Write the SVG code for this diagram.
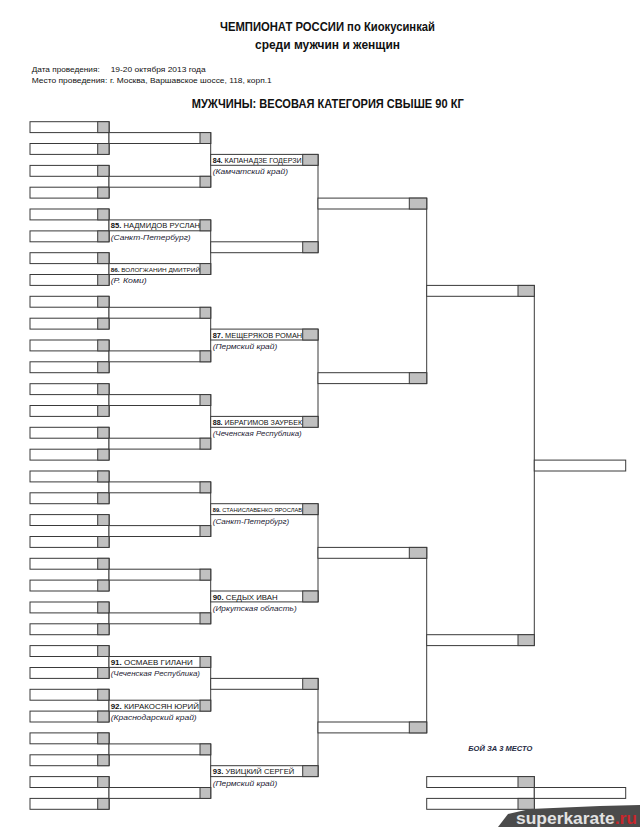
<svg xmlns="http://www.w3.org/2000/svg" width="640" height="827" viewBox="0 0 640 827">
<style>
.w{fill:#fff;stroke:#3a3a3a;stroke-width:1}
.g{fill:#c0c0c0;stroke:#3a3a3a;stroke-width:1}
.c{fill:none;stroke:#3a3a3a;stroke-width:1}
text{font-family:"Liberation Sans",Arial,sans-serif;fill:#111}
.t{font-size:12px;font-weight:bold}
.i{font-size:8px}
.n{font-size:7px}
.nb{font-weight:bold}
.r{font-size:7.5px;font-style:italic;fill:#1c2233}
.bz{font-size:6.5px;font-weight:bold;font-style:italic;fill:#1f2a44}
</style>
<defs>
<g id="b1"><rect class="w" width="79" height="10.9"/><rect class="g" x="67.7" width="11.3" height="10.9"/></g>
<g id="b2"><rect class="w" width="101.7" height="10.9"/><rect class="g" x="91" width="10.7" height="10.9"/></g>
<g id="b3"><rect class="w" width="107.3" height="10.9"/><rect class="g" x="92" width="15.3" height="10.9"/></g>
<g id="b4"><rect class="w" width="108.7" height="10.9"/><rect class="g" x="91.3" width="17.4" height="10.9"/></g>
<g id="b5"><rect class="w" width="107.6" height="10.9"/><rect class="g" x="91.3" width="16.3" height="10.9"/></g>
<g id="bf"><rect class="w" width="91.4" height="10.9"/></g>
</defs>

<g id="header">
<text class="t" x="220" y="31" textLength="215" lengthAdjust="spacingAndGlyphs">ЧЕМПИОНАТ РОССИИ по Киокусинкай</text>
<text class="t" x="255" y="49" textLength="145" lengthAdjust="spacingAndGlyphs">среди мужчин и женщин</text>
<text class="i" x="31.7" y="71.5" textLength="68" lengthAdjust="spacingAndGlyphs">Дата проведения:</text>
<text class="i" x="110.7" y="71.5" textLength="95" lengthAdjust="spacingAndGlyphs">19-20 октября 2013 года</text>
<text class="i" x="31.7" y="82.5" textLength="75.6" lengthAdjust="spacingAndGlyphs">Место проведения:</text>
<text class="i" x="110" y="82.5" textLength="161.7" lengthAdjust="spacingAndGlyphs">г. Москва, Варшавское шоссе, 118, корп.1</text>
<text class="t" x="191.7" y="107.5" textLength="272" lengthAdjust="spacingAndGlyphs">МУЖЧИНЫ: ВЕСОВАЯ КАТЕГОРИЯ СВЫШЕ 90 КГ</text>
</g>

<g id="connectors">
<path class="c" d="M109,121.7V154.4M109,165.4V198.1M109,209V241.8M109,252.7V285.4M109,296.3V329.1M109,340V372.7M109,383.7V416.4M109,427.3V460.1M109,471V503.7M109,514.6V547.4M109,558.3V591M109,602V634.7M109,645.6V678.4M109,689.3V722M109,732.9V765.7M109,776.6V809.3"/>
<path class="c" d="M210.7,132.6V187.2M210.7,219.9V274.5M210.7,307.3V361.8M210.7,394.6V449.2M210.7,481.9V536.5M210.7,569.2V623.8M210.7,656.5V711.1M210.7,743.9V798.4"/>
<path class="c" d="M318,154.4V252.7M318,329.1V427.3M318,503.7V602M318,678.4V776.6"/>
<path class="c" d="M426.7,198.1V383.7M426.7,547.4V732.9"/>
<path class="c" d="M534.3,285.4V645.6M534.3,776.6V809.3"/>
</g>

<g id="round1">
<g id="s01"><use href="#b1" x="30" y="121.7"/></g>
<g id="s02"><use href="#b1" x="30" y="143.5"/></g>
<g id="s03"><use href="#b1" x="30" y="165.4"/></g>
<g id="s04"><use href="#b1" x="30" y="187.2"/></g>
<g id="s05"><use href="#b1" x="30" y="209"/></g>
<g id="s06"><use href="#b1" x="30" y="230.9"/></g>
<g id="s07"><use href="#b1" x="30" y="252.7"/></g>
<g id="s08"><use href="#b1" x="30" y="274.5"/></g>
<g id="s09"><use href="#b1" x="30" y="296.3"/></g>
<g id="s10"><use href="#b1" x="30" y="318.2"/></g>
<g id="s11"><use href="#b1" x="30" y="340"/></g>
<g id="s12"><use href="#b1" x="30" y="361.8"/></g>
<g id="s13"><use href="#b1" x="30" y="383.7"/></g>
<g id="s14"><use href="#b1" x="30" y="405.5"/></g>
<g id="s15"><use href="#b1" x="30" y="427.3"/></g>
<g id="s16"><use href="#b1" x="30" y="449.2"/></g>
<g id="s17"><use href="#b1" x="30" y="471"/></g>
<g id="s18"><use href="#b1" x="30" y="492.8"/></g>
<g id="s19"><use href="#b1" x="30" y="514.6"/></g>
<g id="s20"><use href="#b1" x="30" y="536.5"/></g>
<g id="s21"><use href="#b1" x="30" y="558.3"/></g>
<g id="s22"><use href="#b1" x="30" y="580.1"/></g>
<g id="s23"><use href="#b1" x="30" y="602"/></g>
<g id="s24"><use href="#b1" x="30" y="623.8"/></g>
<g id="s25"><use href="#b1" x="30" y="645.6"/></g>
<g id="s26"><use href="#b1" x="30" y="667.5"/></g>
<g id="s27"><use href="#b1" x="30" y="689.3"/></g>
<g id="s28"><use href="#b1" x="30" y="711.1"/></g>
<g id="s29"><use href="#b1" x="30" y="732.9"/></g>
<g id="s30"><use href="#b1" x="30" y="754.8"/></g>
<g id="s31"><use href="#b1" x="30" y="776.6"/></g>
<g id="s32"><use href="#b1" x="30" y="798.4"/></g>
</g>

<g id="round2">
<g id="r2-01"><use href="#b2" x="109" y="132.6"/></g>
<g id="r2-02"><use href="#b2" x="109" y="176.3"/></g>
<g id="r2-03"><use href="#b2" x="109" y="219.9"/>
<text class="n" x="110.7" y="228.3" textLength="89.3" lengthAdjust="spacingAndGlyphs"><tspan class="nb">85.</tspan> НАДМИДОВ РУСЛАН</text>
<text class="r" x="110.7" y="239.8" textLength="80" lengthAdjust="spacingAndGlyphs">(Санкт-Петербург)</text></g>
<g id="r2-04"><use href="#b2" x="109" y="263.6"/>
<text class="n" x="110.7" y="271.9" style="font-size:6.2px" textLength="89.3" lengthAdjust="spacingAndGlyphs"><tspan class="nb">86.</tspan> ВОЛОГЖАНИН ДМИТРИЙ</text>
<text class="r" x="110.7" y="283.4" textLength="36" lengthAdjust="spacingAndGlyphs">(Р. Коми)</text></g>
<g id="r2-05"><use href="#b2" x="109" y="307.3"/></g>
<g id="r2-06"><use href="#b2" x="109" y="350.9"/></g>
<g id="r2-07"><use href="#b2" x="109" y="394.6"/></g>
<g id="r2-08"><use href="#b2" x="109" y="438.2"/></g>
<g id="r2-09"><use href="#b2" x="109" y="481.9"/></g>
<g id="r2-10"><use href="#b2" x="109" y="525.6"/></g>
<g id="r2-11"><use href="#b2" x="109" y="569.2"/></g>
<g id="r2-12"><use href="#b2" x="109" y="612.9"/></g>
<g id="r2-13"><use href="#b2" x="109" y="656.5"/>
<text class="n" x="110.7" y="664.9" textLength="82" lengthAdjust="spacingAndGlyphs"><tspan class="nb">91.</tspan> ОСМАЕВ ГИЛАНИ</text>
<text class="r" x="110.7" y="676.3" textLength="89.3" lengthAdjust="spacingAndGlyphs">(Чеченская Республика)</text></g>
<g id="r2-14"><use href="#b2" x="109" y="700.2"/>
<text class="n" x="110.7" y="708.6" textLength="88.3" lengthAdjust="spacingAndGlyphs"><tspan class="nb">92.</tspan> КИРАКОСЯН ЮРИЙ</text>
<text class="r" x="110.7" y="720" textLength="86" lengthAdjust="spacingAndGlyphs">(Краснодарский край)</text></g>
<g id="r2-15"><use href="#b2" x="109" y="743.9"/></g>
<g id="r2-16"><use href="#b2" x="109" y="787.5"/></g>
</g>

<g id="round3">
<g id="r3-1"><use href="#b3" x="210.7" y="154.4"/>
<text class="n" x="212.7" y="162.8" textLength="89" lengthAdjust="spacingAndGlyphs"><tspan class="nb">84.</tspan> КАПАНАДЗЕ ГОДЕРЗИ</text>
<text class="r" x="212.7" y="174.3" textLength="75.3" lengthAdjust="spacingAndGlyphs">(Камчатский край)</text></g>
<g id="r3-2"><use href="#b3" x="210.7" y="241.8"/></g>
<g id="r3-3"><use href="#b3" x="210.7" y="329.1"/>
<text class="n" x="212.7" y="337.5" textLength="89.5" lengthAdjust="spacingAndGlyphs"><tspan class="nb">87.</tspan> МЕЩЕРЯКОВ РОМАН</text>
<text class="r" x="212.7" y="349" textLength="64.6" lengthAdjust="spacingAndGlyphs">(Пермский край)</text></g>
<g id="r3-4"><use href="#b3" x="210.7" y="416.4"/>
<text class="n" x="212.7" y="424.8" textLength="89.5" lengthAdjust="spacingAndGlyphs"><tspan class="nb">88.</tspan> ИБРАГИМОВ ЗАУРБЕК</text>
<text class="r" x="212.7" y="436.2" textLength="89" lengthAdjust="spacingAndGlyphs">(Чеченская Республика)</text></g>
<g id="r3-5"><use href="#b3" x="210.7" y="503.7"/>
<text class="n" x="212.7" y="511.8" style="font-size:5.6px" textLength="89.5" lengthAdjust="spacingAndGlyphs"><tspan class="nb">89.</tspan> СТАНИСЛАВЕНКО ЯРОСЛАВ</text>
<text class="r" x="212.7" y="523.5" textLength="76.6" lengthAdjust="spacingAndGlyphs">(Санкт-Петербург)</text></g>
<g id="r3-6"><use href="#b3" x="210.7" y="591"/>
<text class="n" x="212.7" y="599.6" style="font-size:8px" textLength="65" lengthAdjust="spacingAndGlyphs"><tspan class="nb">90.</tspan> СЕДЫХ ИВАН</text>
<text class="r" x="212.7" y="610.8" textLength="84" lengthAdjust="spacingAndGlyphs">(Иркутская область)</text></g>
<g id="r3-7"><use href="#b3" x="210.7" y="678.4"/></g>
<g id="r3-8"><use href="#b3" x="210.7" y="765.7"/>
<text class="n" x="212.7" y="774.1" textLength="81.6" lengthAdjust="spacingAndGlyphs"><tspan class="nb">93.</tspan> УВИЦКИЙ СЕРГЕЙ</text>
<text class="r" x="212.7" y="785.5" textLength="64.6" lengthAdjust="spacingAndGlyphs">(Пермский край)</text></g>
</g>

<g id="round4">
<g id="r4-1"><use href="#b4" x="318" y="198.1"/></g>
<g id="r4-2"><use href="#b4" x="318" y="372.7"/></g>
<g id="r4-3"><use href="#b4" x="318" y="547.4"/></g>
<g id="r4-4"><use href="#b4" x="318" y="722"/></g>
</g>

<g id="round5">
<g id="r5-1"><use href="#b5" x="426.7" y="285.4"/></g>
<g id="r5-2"><use href="#b5" x="426.7" y="634.7"/></g>
</g>

<g id="final"><use href="#bf" x="534.3" y="460.1"/></g>

<g id="third-place">
<text class="bz" x="468.3" y="750.7" textLength="64" lengthAdjust="spacingAndGlyphs">БОЙ ЗА 3 МЕСТО</text>
<g id="tp-1"><use href="#b5" x="426.7" y="776.6"/></g>
<g id="tp-2"><use href="#b5" x="426.7" y="798.4"/></g>
<g id="tp-w"><use href="#bf" x="534.3" y="787.5"/></g>
</g>

<g id="watermark">
<path d="M498,827 L508,814 L530,809 L600,806 L640,805 L640,827 Z" fill="#4b4b4b"/>
<text x="516" y="824" style="font-size:17px;font-weight:bold;fill:#e2e2e2" textLength="121" lengthAdjust="spacingAndGlyphs">superkarate<tspan fill="#c8262b">.ru</tspan></text>
</g>
</svg>
